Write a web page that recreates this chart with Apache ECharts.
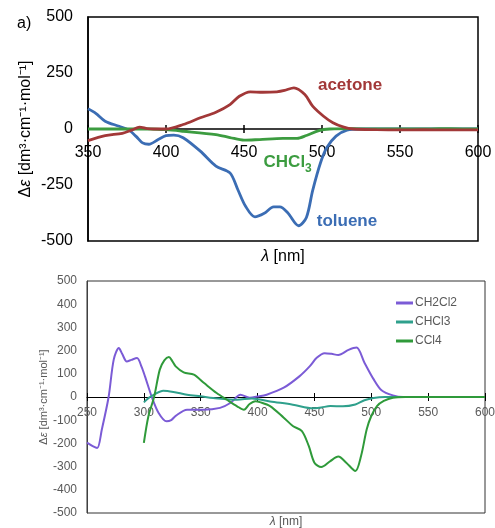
<!DOCTYPE html>
<html><head><meta charset="utf-8">
<script src="https://cdn.jsdelivr.net/npm/echarts@6/dist/echarts.min.js"></script>
<style>html,body{margin:0;padding:0;background:#fff}#c{width:495px;height:528px}</style>
</head><body><div id="c"></div>
<script>
// ---- Top panel (a) ----
const topTicks = [350, 400, 450, 500, 550, 600];
const topYTicks = [-500, -250, 0, 250, 500];
const acetoneX = [350,361,372,378,383,388,392,400,411,422,432,441,447,454,462,471,476,482,489,494,501,507,514,520,535,550,565,580,600];
const acetoneY = [-52,-30,-19,-5,8,2,0,0,20,50,75,109,146,166,164,166,172,184,154,102,57,28,8,0,-3,-4,-3,-4,-4];
const tolueneX = [350,355,361,370,376,381,385,389,395,400,405,411,422,432,441,446,451,457,463,469,473,478,485,490,494,499,503,509,516,525,550,575,600];
const tolueneY = [90,70,35,12,-4,-34,-62,-68,-47,-30,-27,-39,-99,-166,-196,-270,-345,-392,-376,-348,-348,-374,-432,-395,-275,-152,-84,-32,-5,0,0,0,0];
const chcl3aX = [350,370,390,400,411,432,441,450,460,475,484,490,498,505,520,535,550,565,575,590,600];
const chcl3aY = [0,0,0,-3,-10,-25,-38,-50,-47,-42,-42,-29,-7,0,2,0,1,0,2,1,0];

// ---- Bottom panel ----
const botTicks = [250, 300, 350, 400, 450, 500, 550, 600];
const botYTicks = [-500,-400,-300,-200,-100,0,100,200,300,400,500];
const ch2cl2X = [250,255,259,263,269,273.5,278,281,285,289,294,298,301,307,313,320,324,328,338,352,367,376,385,393,400,408,423,437,446,452,459,465,471,480,487,494,502,509,519,528,550,600];
const ch2cl2Y = [-197,-212,-220,-141,0,161,211,185,153,160,168,130,89,0,-69,-105,-100,-81,-55,-55,-47,-26,10,-3,2,10,40,90,133,169,189,186,181,203,213,148,77,29,7,0,0,0];
const chcl3bX = [300,304,309,317,326,338,350,361,382,395,411,431,449,456,464,475,486,494,502,512,550,600];
const chcl3bY = [-23,-5,10,27,22,10,3,-4,-12,-6,-19,-33,-49,-45,-39,-40,-32,-14,-4,0,0,0];
const ccl4X = [300,304,309,314,318,322,325,328,335,344,353,364,373,382,388,393,398,402,411,423,431,439,445,450,456,464,471,478,486,491,496,500,505,511,519,530,550,600];
const ccl4Y = [-198,-83,0,118,158,172,155,132,106,96,60,17,-12,-40,-55,-30,-18,-22,-39,-89,-125,-147,-211,-283,-302,-276,-257,-283,-319,-254,-139,-82,-39,-17,-3,0,0,0];

const pairs = (xs, ys) => xs.map((x, i) => [x, ys[i]]);
const FONT = 'Liberation Sans, Arial, sans-serif';
const GRAY = '#595959';

const chart = echarts.init(document.getElementById('c'), null, {renderer: 'canvas'});

// offset: negative value lifts the axis from the grid bottom up to the zero line
function xAxes(grid, ticks, offset, labelColor, fontSize, margin, nameGap, nameColor, nameSize, lineColor, lineW) {
  const mn = ticks[0], mx = ticks[ticks.length - 1], iv = ticks[1] - ticks[0];
  return [{
    type: 'value', gridIndex: grid, min: mn, max: mx, interval: iv, position: 'bottom', offset: offset,
    axisLine: {show: true, onZero: false, lineStyle: {color: lineColor, width: lineW}},
    axisTick: {show: true, length: 4, lineStyle: {color: lineColor, width: lineW}},
    splitLine: {show: false},
    axisLabel: {color: labelColor, fontSize: fontSize, fontFamily: FONT, margin: margin},
    name: '{i|λ}{n| [nm]}', nameLocation: 'middle', nameGap: nameGap, nameMoveOverlap: false,
    nameTextStyle: {color: nameColor, fontSize: nameSize, fontFamily: FONT,
      rich: {i: {fontStyle: 'italic', fontSize: nameSize, color: nameColor, fontFamily: FONT},
             n: {fontSize: nameSize, color: nameColor, fontFamily: FONT}}}
  }, {
    type: 'value', gridIndex: grid, min: mn, max: mx, interval: iv, position: 'bottom', offset: offset,
    axisLine: {show: false, onZero: false},
    axisTick: {show: true, inside: true, length: 4, lineStyle: {color: lineColor, width: lineW}},
    axisLabel: {show: false}, splitLine: {show: false}
  }];
}

function yAxis(grid, ticks, labelColor, fontSize, margin, nameGap, nameColor, nameSize, lineColor, lineW) {
  const mn = ticks[0], mx = ticks[ticks.length - 1], iv = ticks[1] - ticks[0];
  return {
    type: 'value', gridIndex: grid, min: mn, max: mx, interval: iv,
    axisLine: {show: true, onZero: false, lineStyle: {color: lineColor, width: lineW}},
    axisTick: {show: false}, splitLine: {show: false},
    axisLabel: {color: labelColor, fontSize: fontSize, fontFamily: FONT, margin: margin},
    name: '{n|Δ}{i|ε}{n| [dm³·cm⁻¹·mol⁻¹]}', nameLocation: 'middle', nameGap: nameGap, nameMoveOverlap: false,
    nameTextStyle: {color: nameColor, fontSize: nameSize, fontFamily: FONT,
      rich: {i: {fontStyle: 'italic', fontSize: nameSize, color: nameColor, fontFamily: FONT},
             n: {fontSize: nameSize, color: nameColor, fontFamily: FONT}}}
  };
}

const xA = [].concat(
  xAxes(0, topTicks, -112, '#000', 16, 16, 120, '#000', 16, '#000', 1.5),
  xAxes(1, botTicks, -116, GRAY, 12, 10, 119, GRAY, 12, '#000', 1)
);
const yA = [
  yAxis(0, topYTicks, '#000', 16, 15, 54, '#000', 16, '#000', 1.5),
  yAxis(1, botYTicks, GRAY, 12, 10, 38, GRAY, 11, '#404040', 1)
];

function line(name, data, color, width, xi, yi, label) {
  const s = {
    name: name, type: 'line', data: data, xAxisIndex: xi, yAxisIndex: yi,
    smooth: 0.3, showSymbol: false, symbol: 'none',
    lineStyle: {color: color, width: width}, itemStyle: {color: color}, z: 3
  };
  if (label) {
    s.markPoint = {
      symbol: 'circle', symbolSize: 0, silent: true,
      data: [{coord: label.coord, value: label.text,
        label: {show: true, formatter: label.text, color: color, fontSize: 17, fontWeight: 'bold',
          fontFamily: FONT, position: 'inside',
          rich: {s: {fontSize: 12, fontWeight: 'bold', color: color, fontFamily: FONT, verticalAlign: 'bottom', padding: [12, 0, 0, 0]}}}}]
    };
  }
  return s;
}

chart.setOption({
  animation: false,
  backgroundColor: '#fff',
  title: {text: 'a)', left: 12, top: 11, textStyle: {fontSize: 16, fontWeight: 'normal', color: '#000', fontFamily: FONT}},
  grid: [
    {left: 88, top: 17, width: 390, height: 224, show: true, borderColor: '#000', borderWidth: 1.5, backgroundColor: 'transparent', outerBoundsMode: 'none', containLabel: false},
    {left: 87, top: 281, width: 398, height: 232, show: true, borderColor: '#333', borderWidth: 1, backgroundColor: 'transparent', outerBoundsMode: 'none', containLabel: false}
  ],
  legend: {
    data: ['CH2Cl2', 'CHCl3', 'CCl4'], orient: 'vertical', left: 391, top: 292,
    icon: 'rect', itemWidth: 17, itemHeight: 3, itemGap: 7,
    textStyle: {color: GRAY, fontSize: 12, fontFamily: FONT, padding: [0, 0, 0, -3]}
  },
  xAxis: xA,
  yAxis: yA,
  series: [
    line('toluene', pairs(tolueneX, tolueneY), '#3b6db4', 2.8, 0, 0, {coord: [516, -412], text: 'toluene'}),
    line('CHCl3a', pairs(chcl3aX, chcl3aY), '#3c9c40', 2.8, 0, 0, {coord: [478, -150], text: 'CHCl{s|3}'}),
    line('acetone', pairs(acetoneX, acetoneY), '#a23838', 2.8, 0, 0, {coord: [518, 196], text: 'acetone'}),
    line('CH2Cl2', pairs(ch2cl2X, ch2cl2Y), '#7b5bd6', 2, 2, 1),
    line('CHCl3', pairs(chcl3bX, chcl3bY), '#2fa08c', 2, 2, 1),
    line('CCl4', pairs(ccl4X, ccl4Y), '#2f9a3a', 2, 2, 1)
  ]
});
</script></body></html>
